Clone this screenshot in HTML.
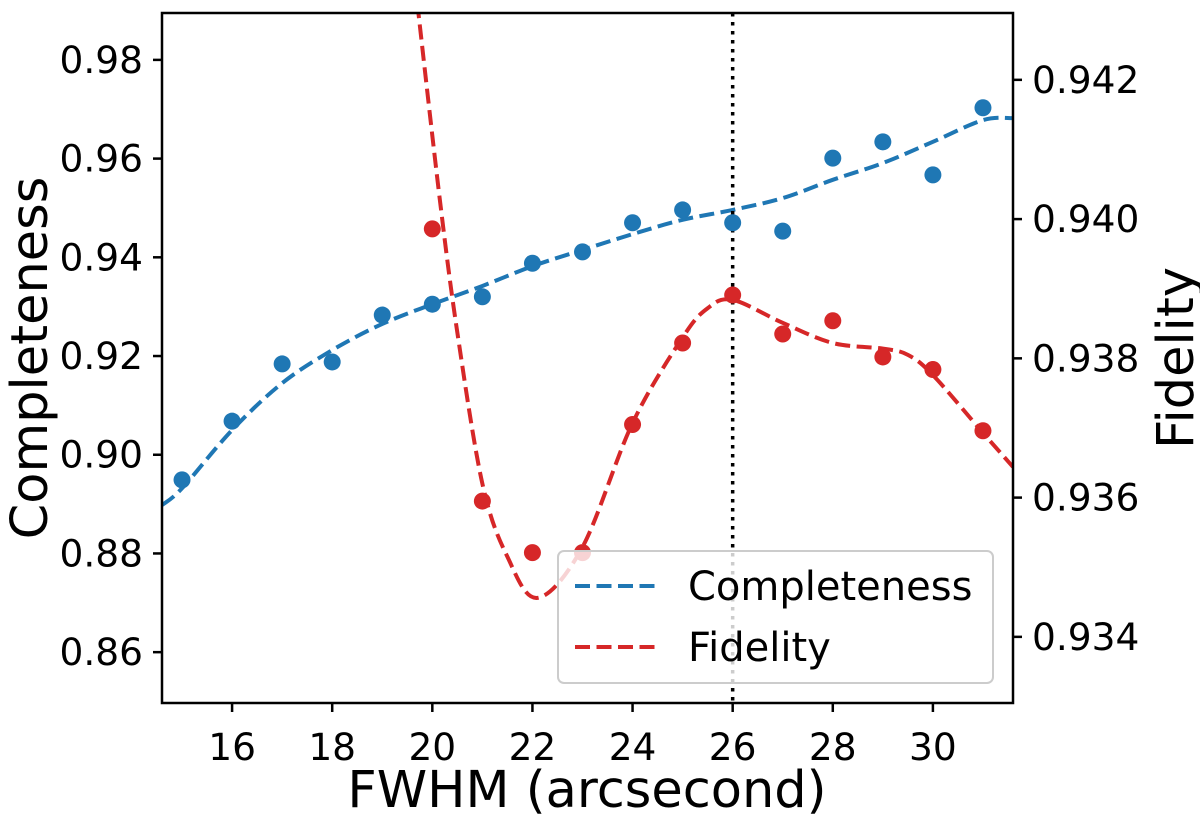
<!DOCTYPE html>
<html><head><meta charset="utf-8"><style>
html,body{margin:0;padding:0;background:#fff}
svg{display:block;font-family:"DejaVu Sans","Liberation Sans",sans-serif}
</style></head><body>
<svg id="chart" width="1200" height="814" viewBox="0 0 1200 814">
<defs><clipPath id="clip"><rect x="162" y="13" width="851" height="690"/></clipPath></defs>
<g id="plot" clip-path="url(#clip)"></g>
<g id="axes"></g>
</svg>
<script>
const xs = [15,16,17,18,19,20,21,22,23,24,25,26,27,28,29,30,31];
const completeness = [0.8949,0.9068,0.9184,0.9188,0.9283,0.9305,0.9320,0.9388,0.9411,0.9470,0.9496,0.9470,0.9453,0.9601,0.9634,0.9567,0.9703];
const fidX = [20,21,22,23,24,25,26,27,28,29,30,31];
const fidelity = [0.93986,0.93595,0.93521,0.93521,0.93705,0.93822,0.93891,0.93835,0.93854,0.93802,0.93784,0.93696];
const compFitX = [14.6,15,16,17,18,19,20,21,22,23,24,25,26,27,28,29,30,31,31.6];
const compFitY = [0.8898,0.8932,0.9050,0.9145,0.9212,0.9265,0.9305,0.9342,0.9382,0.9415,0.9447,0.9476,0.9496,0.9520,0.9557,0.9591,0.9634,0.9678,0.9682];
const fidFitX = [19.7,20.15,20.5,21,21.5,22.1,23,24,25,25.5,26,27,28,29,29.5,30,31,31.6];
const fidFitY = [0.9431,0.94028,0.93837,0.93620,0.93515,0.93456,0.93529,0.93707,0.93830,0.93872,0.93884,0.93851,0.93822,0.93814,0.93805,0.93776,0.93693,0.93644];
const xTicks = [16,18,20,22,24,26,28,30];
const leftTicks = [0.86,0.88,0.90,0.92,0.94,0.96,0.98];
const rightTicks = [0.934,0.936,0.938,0.940,0.942];
const vline = 26;

const L=162,R=1013,T=13,B=703;
const xMin=14.6,xMax=31.6, lMin=0.8497,lMax=0.9895, rMin=0.93305,rMax=0.94296;
const X=v=>L+(v-xMin)/(xMax-xMin)*(R-L);
const YL=v=>B-(v-lMin)/(lMax-lMin)*(B-T);
const YR=v=>B-(v-rMin)/(rMax-rMin)*(B-T);
const NS="http://www.w3.org/2000/svg";
function mk(tag,attrs,parent,text){const e=document.createElementNS(NS,tag);for(const k in attrs)e.setAttribute(k,attrs[k]);if(text!==undefined)e.textContent=text;parent.appendChild(e);return e;}
function smooth(px,py){let d=`M${px[0]},${py[0]}`;for(let i=0;i<px.length-1;i++){const x0=px[Math.max(i-1,0)],y0=py[Math.max(i-1,0)],x1=px[i],y1=py[i],x2=px[i+1],y2=py[i+1],x3=px[Math.min(i+2,px.length-1)],y3=py[Math.min(i+2,px.length-1)];d+=` C${x1+(x2-x0)/6},${y1+(y2-y0)/6} ${x2-(x3-x1)/6},${y2-(y3-y1)/6} ${x2},${y2}`;}return d;}
const plot=document.getElementById('plot'), axes=document.getElementById('axes');

let p=mk('path',{d:smooth(compFitX.map(X),compFitY.map(YL)),fill:'none',stroke:'#1f77b4','stroke-width':4,'stroke-dasharray':'15 6.5'},plot);


p=mk('path',{d:smooth(fidFitX.map(X),fidFitY.map(YR)),fill:'none',stroke:'#d62728','stroke-width':4,'stroke-dasharray':'15 6.5'},plot);


p=mk('line',{x1:X(vline),x2:X(vline),y1:T,y2:B,stroke:'#000','stroke-width':3.5,'stroke-dasharray':'3.5 5.5'},plot);


xs.forEach((x,i)=>{const c=mk('circle',{cx:X(x),cy:YL(completeness[i]),r:8.5,fill:'#1f77b4'},plot);

});
fidX.forEach((x,i)=>{const c=mk('circle',{cx:X(x),cy:YR(fidelity[i]),r:8.5,fill:'#d62728'},plot);

});

const lg=mk('g',{},axes);


mk('rect',{x:558,y:551,width:435,height:132,rx:6,fill:'rgba(255,255,255,0.8)',stroke:'#ccc','stroke-width':2},lg);
mk('line',{x1:575,x2:655,y1:586,y2:586,stroke:'#1f77b4','stroke-width':4,'stroke-dasharray':'15 6.5'},lg);
let t=mk('text',{x:688,y:600,'font-size':40},lg,'Completeness');


mk('line',{x1:575,x2:655,y1:647,y2:647,stroke:'#d62728','stroke-width':4,'stroke-dasharray':'15 6.5'},lg);
t=mk('text',{x:688,y:661,'font-size':40},lg,'Fidelity');



mk('rect',{x:L,y:T,width:R-L,height:B-T,fill:'none',stroke:'#000','stroke-width':2.5},axes);
xTicks.forEach(v=>{mk('line',{x1:X(v),x2:X(v),y1:B,y2:B+9,stroke:'#000','stroke-width':2.5},axes);
const e=mk('text',{x:X(v),y:B+57,'font-size':37.5,'text-anchor':'middle'},axes,String(v));

});
leftTicks.forEach(v=>{mk('line',{x1:L-9,x2:L,y1:YL(v),y2:YL(v),stroke:'#000','stroke-width':2.5},axes);
const e=mk('text',{x:L-19,y:YL(v)+13,'font-size':37.5,'text-anchor':'end'},axes,v.toFixed(2));

});
rightTicks.forEach(v=>{mk('line',{x1:R,x2:R+9,y1:YR(v),y2:YR(v),stroke:'#000','stroke-width':2.5},axes);
const e=mk('text',{x:R+19,y:YR(v)+13,'font-size':37.5},axes,v.toFixed(3));

});
t=mk('text',{x:587,y:807,'font-size':51,'text-anchor':'middle'},axes,'FWHM (arcsecond)');


t=mk('text',{x:0,y:0,'font-size':51,'text-anchor':'middle',transform:'translate(47,358) rotate(-90)'},axes,'Completeness');


t=mk('text',{x:0,y:0,'font-size':51,'text-anchor':'middle',transform:'translate(1193,358) rotate(-90)'},axes,'Fidelity');


</script>
</body></html>
